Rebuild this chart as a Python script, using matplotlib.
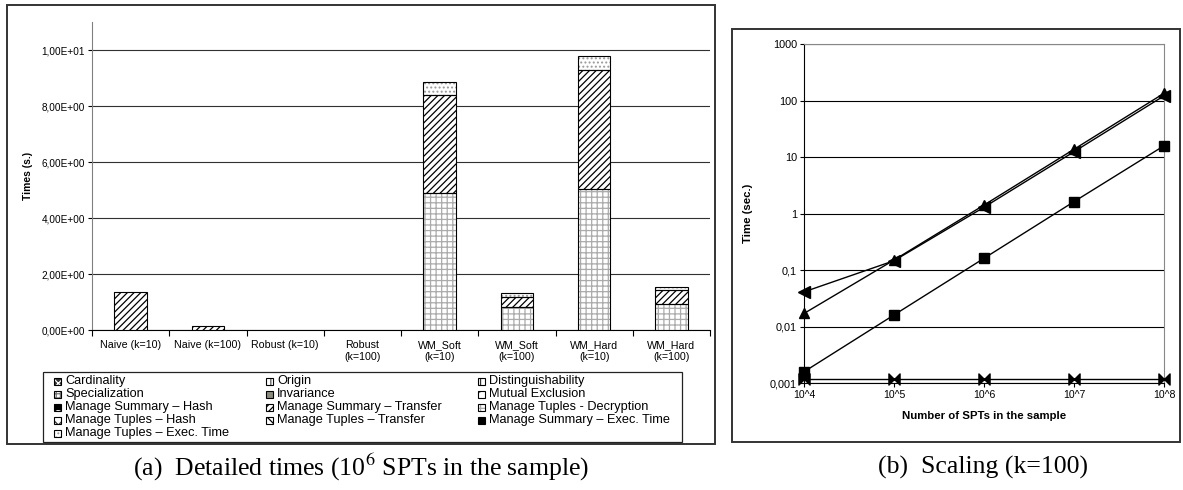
"""Detailed times and scaling plots for the watermarking experiments."""

import matplotlib

matplotlib.use("Agg")

import matplotlib.pyplot as plt
import numpy as np
from matplotlib.patches import Rectangle
from matplotlib.path import Path

W, H = 1183, 490

categories = [
  "Naive (k=10)", "Naive (k=100)", "Robust (k=10)", "Robust\n(k=100)",
  "WM_Soft\n(k=10)", "WM_Soft\n(k=100)", "WM_Hard\n(k=10)", "WM_Hard\n(k=100)",
]
tuples_decryption = [0, 0, 0, 0, 4.89, 0.81, 5.04, 0.92]
summary_transfer = [1.36, 0.15, 0, 0, 3.51, 0.38, 4.25, 0.51]
tuples_exec_time = [0, 0, 0, 0, 0.47, 0.14, 0.51, 0.09]

# legend order, row by row (3 columns)
series_names = [
  "Cardinality", "Origin", "Distinguishability",
  "Specialization", "Invariance", "Mutual Exclusion",
  "Manage Summary – Hash", "Manage Summary – Transfer", "Manage Tuples - Decryption",
  "Manage Tuples – Hash", "Manage Tuples – Transfer", "Manage Summary – Exec. Time",
  "Manage Tuples – Exec. Time",
]

sample_sizes = ["10^4", "10^5", "10^6", "10^7", "10^8"]
scaling_left = [0.041, 0.146, 1.29, 12.4, 121]
scaling_up = [0.017, 0.15, 1.41, 13.7, 134]
scaling_square = [0.00158, 0.016, 0.161, 1.62, 15.8]
scaling_flat = [0.0012, 0.0012, 0.0012, 0.0012, 0.0012]
time_ticks = [0.001, 0.01, 0.1, 1, 10, 100, 1000]
time_labels = ["0,001", "0,01", "0,1", "1", "10", "100", "1000"]
time_tick_labels_a = ["0,00E+00", "2,00E+00", "4,00E+00", "6,00E+00", "8,00E+00", "1,00E+01"]

# (face, hatch, hatch colour) per legend entry
STYLES = {
  "Cardinality": ("#333333", "xxxx", "white"),
  "Origin": ("white", "||", "#555555"),
  "Distinguishability": ("white", "|||", "#333333"),
  "Specialization": ("white", "++++", "#777777"),
  "Invariance": ("#8c8c78", "", "#8c8c78"),
  "Mutual Exclusion": ("white", "..", "#777777"),
  "Manage Summary – Hash": ("black", "O", "white"),
  "Manage Summary – Transfer": ("white", "/////", "black"),
  "Manage Tuples - Decryption": ("white", "+++", "#ababab"),
  "Manage Tuples – Hash": ("white", "xx", "#333333"),
  "Manage Tuples – Transfer": ("white", "\\\\\\\\", "black"),
  "Manage Summary – Exec. Time": ("black", "o", "white"),
  "Manage Tuples – Exec. Time": ("white", "....", "#999999"),
}

plt.rcParams["font.family"] = ["Liberation Sans", "DejaVu Sans"]
plt.rcParams["mathtext.fontset"] = "stix"
plt.rcParams["hatch.linewidth"] = 0.9


def fx(px):
  return px / W


def fy(py):
  return 1 - py / H


def frame(fig, x0, y0, x1, y1, lw=1.0, color="#333333"):
  fig.add_artist(Rectangle((fx(x0), fy(y1)), fx(x1 - x0), (y1 - y0) / H,
                           transform=fig.transFigure, fill=False,
                           edgecolor=color, linewidth=lw))


def stacked_bars(ax, x, values, bottom, name, width=0.42):
  face, hatch, hcolor = STYLES[name]
  ax.bar(x, values, width, bottom=bottom, color=face, hatch=hatch,
         edgecolor=hcolor, linewidth=0, zorder=3)
  ax.bar(x, values, width, bottom=bottom, fill=False,
         edgecolor="black", linewidth=0.8, zorder=4)


fig = plt.figure(figsize=(W / 100, H / 100), dpi=100)

# ---- (a) detailed times ----
frame(fig, 7, 5, 715, 444, lw=1.4)
ax = fig.add_axes([fx(92), fy(330), fx(710 - 92), (330 - 22) / H])
x = np.arange(len(categories))
bottom = np.zeros(len(categories))
for name, vals in [
  ("Manage Tuples - Decryption", tuples_decryption),
  ("Manage Summary – Transfer", summary_transfer),
  ("Manage Tuples – Exec. Time", tuples_exec_time),
]:
  vals = np.array(vals)
  mask = vals > 0
  stacked_bars(ax, x[mask], vals[mask], bottom[mask], name)
  bottom += vals
ax.set_xlim(-0.5, len(categories) - 0.5)
ax.set_ylim(0, 11)
ax.set_yticks([0, 2, 4, 6, 8, 10])
ax.set_yticklabels(time_tick_labels_a, fontsize=7.2)
ax.yaxis.grid(True, color="#303030", linewidth=0.8)
ax.set_axisbelow(True)
ax.set_xticks(x)
ax.set_xticklabels(categories, fontsize=7.7, linespacing=1.3)
ax.tick_params(axis="x", length=0, pad=7)
ax.set_xticks(np.arange(len(categories) + 1) - 0.5, minor=True)
ax.tick_params(axis="x", which="minor", length=4, width=0.8, direction="out")
ax.tick_params(axis="y", length=3, width=0.8, pad=2)
for side in ["top", "right"]:
  ax.spines[side].set_visible(False)
ax.spines["left"].set_color("#808080")
ax.spines["bottom"].set_linewidth(0.8)
ax.set_ylabel("Times (s.)", fontsize=7.4, fontweight="bold", labelpad=6)

# legend
frame(fig, 43, 372, 682, 442, lw=0.9, color="#222222")
col_marker = [54, 266, 478]
col_text = [65, 277, 489]
row_y = [381, 394, 407, 420, 433]
for i, name in enumerate(series_names):
  row, col = divmod(i, 3)
  face, hatch, hcolor = STYLES[name]
  y = row_y[row]
  fig.add_artist(Rectangle((fx(col_marker[col]), fy(y + 3.5)), fx(7), 7 / H,
                           transform=fig.transFigure, facecolor=face,
                           hatch=hatch, edgecolor=hcolor, linewidth=0))
  fig.add_artist(Rectangle((fx(col_marker[col]), fy(y + 3.5)), fx(7), 7 / H,
                           transform=fig.transFigure, fill=False,
                           edgecolor="black", linewidth=0.8))
  fig.text(fx(col_text[col]), fy(y), name, fontsize=9.2, va="center", ha="left")

fig.text(fx(361), fy(467), "(a)  Detailed times (10$^6$ SPTs in the sample)",
         fontsize=18.5, family="Liberation Serif", ha="center", va="center")

# ---- (b) scaling ----
frame(fig, 732, 29, 1180, 442, lw=1.4)
bx = fig.add_axes([fx(804), fy(383), fx(1164 - 804), (383 - 44) / H])
xs = np.arange(len(sample_sizes))
bowtie = Path([(-1, -1), (-1, 1), (0, 0), (-1, -1), (1, -1), (1, 1), (0, 0), (1, -1)],
              [Path.MOVETO, Path.LINETO, Path.LINETO, Path.CLOSEPOLY,
               Path.MOVETO, Path.LINETO, Path.LINETO, Path.CLOSEPOLY])
bx.plot(xs, scaling_flat, color="black", linewidth=1, marker=bowtie,
        markersize=8, clip_on=False, zorder=5)
bx.plot(xs, scaling_square, color="black", linewidth=1, marker="s",
        markersize=7, clip_on=False, zorder=5)
bx.plot(xs, scaling_up, color="black", linewidth=1, marker="^",
        markersize=7, clip_on=False, zorder=5)
bx.plot(xs, scaling_left, color="black", linewidth=1, marker="<",
        markersize=8, clip_on=False, zorder=5)
bx.set_yscale("log")
bx.set_ylim(0.001, 1000)
bx.set_xlim(0, len(sample_sizes) - 1)
bx.set_yticks(time_ticks)
bx.set_yticklabels(time_labels, fontsize=7.8)
bx.minorticks_off()
bx.set_xticks(xs)
bx.set_xticklabels(sample_sizes, fontsize=7.6)
bx.yaxis.grid(True, color="black", linewidth=0.8)
bx.set_axisbelow(True)
bx.tick_params(axis="both", length=3, width=0.8, pad=2)
for side in ["top", "right"]:
  bx.spines[side].set_color("#888888")
  bx.spines[side].set_linewidth(0.8)
bx.spines["left"].set_linewidth(0.8)
bx.spines["bottom"].set_linewidth(0.8)
bx.set_xlabel("Number of SPTs in the sample", fontsize=8.2, fontweight="bold",
              labelpad=8)
bx.set_ylabel("Time (sec.)", fontsize=8.2, fontweight="bold", labelpad=12)

fig.text(fx(983), fy(467), "(b)  Scaling (k=100)", fontsize=18.5,
         family="Liberation Serif", ha="center", va="center")

fig.savefig("out.png", dpi=100)
